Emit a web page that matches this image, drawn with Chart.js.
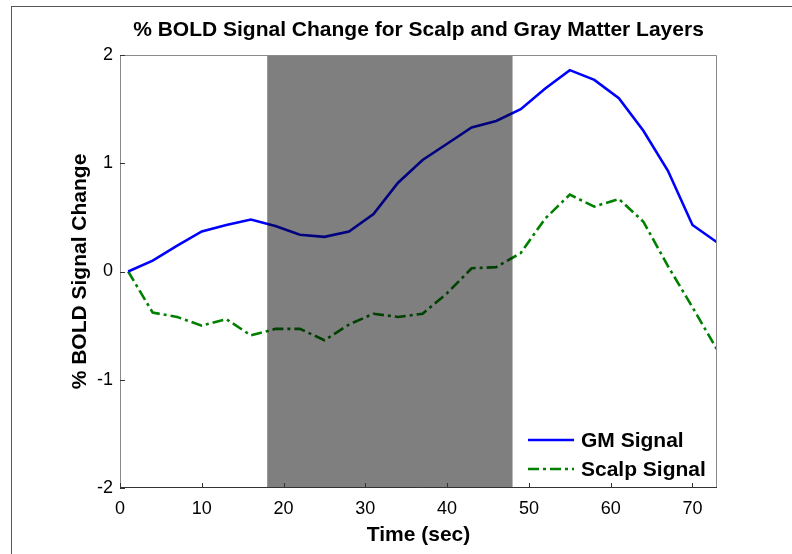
<!DOCTYPE html>
<html>
<head>
<meta charset="utf-8">
<script src="https://cdn.jsdelivr.net/npm/chart.js@4"></script>
<style>
  html, body { margin: 0; padding: 0; background: #fff; }
  canvas { display: block; }
</style>
</head>
<body>
<canvas id="c" width="792" height="554"></canvas>
<script>
// ---- data ----
const timeSec = [1, 4, 7, 10, 13, 16, 19, 22, 25, 28, 31, 34, 37, 40, 43, 46, 49, 52, 55, 58, 61, 64, 67, 70, 73];
const gmSignal = [0, 0.10, 0.24, 0.37, 0.43, 0.48, 0.42, 0.34, 0.32, 0.37, 0.53, 0.82, 1.03, 1.18, 1.33, 1.39, 1.50, 1.69, 1.86, 1.77, 1.60, 1.30, 0.93, 0.43, 0.27];
const scalpSignal = [0, -0.38, -0.42, -0.50, -0.44, -0.59, -0.53, -0.53, -0.635, -0.49, -0.39, -0.42, -0.39, -0.20, 0.03, 0.04, 0.17, 0.49, 0.71, 0.60, 0.67, 0.46, 0.05, -0.33, -0.72];
const stimBlock = [18, 48];
const xTickValues = [0, 10, 20, 30, 40, 50, 60, 70];
const yTickValues = [-2, -1, 0, 1, 2];
const seriesLabels = ['GM Signal', 'Scalp Signal'];
const titleText = '% BOLD Signal Change for Scalp and Gray Matter Layers';
const xTitle = 'Time (sec)';
const yTitle = '% BOLD Signal Change';

const FONT = '"Liberation Sans", Arial, Helvetica, sans-serif';
Chart.defaults.font.family = FONT;
Chart.defaults.color = '#000';

const toXY = (ys) => ys.map((v, i) => ({ x: timeSec[i], y: v }));

const decor = {
  id: 'decor',
  beforeDraw(chart) {
    const ctx = chart.ctx;
    ctx.save();
    ctx.strokeStyle = '#555';
    ctx.lineWidth = 1;
    ctx.strokeRect(11.5, 6.5, 1000, 1000);
    ctx.restore();
  },
  afterDatasetsDraw(chart) {
    const { ctx, chartArea: a, scales: { x, y } } = chart;
    ctx.save();
    // stimulus block shading (translucent black over the lines)
    const x0 = x.getPixelForValue(stimBlock[0]);
    const x1 = x.getPixelForValue(stimBlock[1]);
    ctx.fillStyle = 'rgba(0,0,0,0.5)';
    ctx.fillRect(x0, a.top, x1 - x0, a.bottom - a.top);

    // axes box
    ctx.lineWidth = 1;
    ctx.strokeStyle = '#8a8a8a';
    ctx.beginPath();
    ctx.moveTo(a.left + 0.5, a.bottom);
    ctx.lineTo(a.left + 0.5, a.top + 0.5);
    ctx.lineTo(a.right - 0.5, a.top + 0.5);
    ctx.lineTo(a.right - 0.5, a.bottom);
    ctx.stroke();
    ctx.strokeStyle = '#333';
    ctx.beginPath();
    ctx.moveTo(a.left, a.bottom - 0.5);
    ctx.lineTo(a.right, a.bottom - 0.5);
    ctx.stroke();

    // inward ticks
    ctx.strokeStyle = '#333';
    ctx.beginPath();
    x.ticks.forEach(t => {
      const px = Math.round(x.getPixelForValue(t.value)) + 0.5;
      ctx.moveTo(px, a.bottom);
      ctx.lineTo(px, a.bottom - 5);
    });
    y.ticks.forEach(t => {
      const py = Math.round(y.getPixelForValue(t.value)) + 0.5;
      ctx.moveTo(a.left, py);
      ctx.lineTo(a.left + 5, py);
    });
    ctx.stroke();

    // legend
    ctx.font = 'bold 21px ' + FONT;
    ctx.textBaseline = 'middle';
    ctx.fillStyle = '#000';
    const ly = [440, 469];
    chart.data.datasets.forEach((ds, i) => {
      ctx.strokeStyle = ds.borderColor;
      ctx.lineWidth = ds.borderWidth;
      ctx.setLineDash(ds.borderDash || []);
      ctx.beginPath();
      ctx.moveTo(528, ly[i]);
      ctx.lineTo(574, ly[i]);
      ctx.stroke();
      ctx.setLineDash([]);
      ctx.fillText(ds.label, 581, ly[i] + 1);
    });
    ctx.restore();
  }
};

new Chart(document.getElementById('c'), {
  type: 'line',
  data: {
    datasets: [
      { label: seriesLabels[0], data: toXY(gmSignal), borderColor: '#0000ff', borderWidth: 2.6,
        pointRadius: 0, tension: 0, fill: false },
      { label: seriesLabels[1], data: toXY(scalpSignal), borderColor: '#008000', borderWidth: 2.6,
        borderDash: [11, 4, 3, 4], pointRadius: 0, tension: 0, fill: false }
    ]
  },
  options: {
    responsive: false,
    animation: false,
    devicePixelRatio: 1,
    layout: { padding: { left: 0, right: 75, top: 0, bottom: 0 } },
    plugins: {
      legend: { display: false },
      tooltip: { enabled: false },
      title: {
        display: true, text: titleText, fullSize: false, color: '#000',
        font: { size: 21, weight: 'bold', family: FONT },
        padding: { top: 17.4, bottom: 12.4 }
      }
    },
    scales: {
      x: {
        type: 'linear', min: 0, max: 73,
        grid: { display: false, drawTicks: false },
        border: { display: false },
        afterBuildTicks: s => { s.ticks = xTickValues.map(v => ({ value: v })); },
        ticks: { font: { size: 18 }, color: '#000', padding: 10, maxRotation: 0, autoSkip: false },
        title: { display: true, text: xTitle, color: '#000', font: { size: 21, weight: 'bold' },
                 padding: { top: 0, bottom: 6.4 } },
        afterFit: s => { s.height = 66; }
      },
      y: {
        min: -2, max: 2,
        grid: { display: false, drawTicks: false },
        border: { display: false },
        afterBuildTicks: s => { s.ticks = yTickValues.map(v => ({ value: v })); },
        ticks: { font: { size: 18 }, color: '#000', padding: 7, autoSkip: false },
        title: { display: true, text: yTitle, color: '#000', font: { size: 21, weight: 'bold' },
                 padding: { top: 67.4, bottom: 0 } },
        afterFit: s => { s.width = 120; }
      }
    }
  },
  plugins: [decor]
});
</script>
</body>
</html>
